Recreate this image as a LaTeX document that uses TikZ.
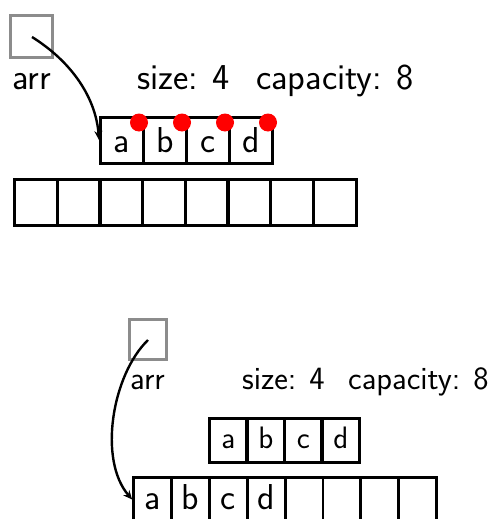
\documentclass[tikz,border=0pt]{standalone}
\usetikzlibrary{arrows.meta,calc}
\begin{document}
\begin{tikzpicture}[x=1pt,y=-1pt,
  cellA/.style={draw=black,line width=3pt,minimum width=43pt,minimum height=46pt,inner sep=0pt,text height=25pt,text depth=0pt,font=\sffamily\fontsize{36}{36}\selectfont},
  cellB/.style={draw=black,line width=2.8pt,minimum width=37.8pt,minimum height=44pt,inner sep=0pt,text height=16pt,text depth=0pt,font=\sffamily\fontsize{31}{31}\selectfont},
  cellC/.style={cellB,text height=19.5pt,font=\sffamily\fontsize{36}{36}\selectfont},
  ptrbox/.style={draw={rgb,255:red,140;green,140;blue,140},line width=3pt,inner sep=0pt},
  lblA/.style={anchor=base west,inner sep=0pt,font=\sffamily\fontsize{36.5}{36.5}\selectfont},
  lblB/.style={anchor=base west,inner sep=0pt,font=\sffamily\fontsize{32.5}{32.5}\selectfont},
  ptr/.style={line width=2.4pt,-{Stealth[length=9pt,width=8pt]}},
  dot/.style={circle,fill=red,inner sep=0pt,minimum size=18pt}
]
\useasboundingbox (0,0) rectangle (496,519);
% ---------- top ----------
\node[ptrbox,minimum width=42pt,minimum height=42pt] (pA) at (31.5,36.5) {};
\node[lblA] (arrA) at (12,89) {arr};
\node[lblA] (sizeA) at (137,89) {size:\hspace{0.4em}4};
\node[lblA] (capA) at (256,89) {capacity:\hspace{0.4em}8};
\foreach \t [count=\i] in {a,b,c,d}
  \node[cellA] (s\i) at ({100.5+43*(\i-0.5)},140) {\t};
\foreach \i in {1,...,8}
  \node[cellA] (g\i) at ({14.5+42.7*(\i-0.5)},202) {};
\foreach \i in {1,...,4}
  \node[dot] (r\i) at ($(s\i.north east)+(-6,7)$) {};
\coordinate (pAs) at (32,37);
\draw[ptr] (pAs) .. controls (72,62) and (96,98) .. (s1.west);
% ---------- bottom ----------
\node[ptrbox,minimum width=37pt,minimum height=40pt] (pB) at (148,339.5) {};
\node[lblB] (arrB) at (130,389) {arr};
\node[lblB] (sizeB) at (242,389) {size:\hspace{0.4em}4};
\node[lblB] (capB) at (348,389) {capacity:\hspace{0.4em}8};
\foreach \t [count=\i] in {a,b,c,d}
  \node[cellB] (u\i) at ({209.5+37.5*(\i-0.5)},440.5) {\t};
\foreach \t [count=\i] in {a,b,c,d,{},{},{},{}}
  \node[cellC] (h\i) at ({133.5+37.9*(\i-0.5)},499.5) {\t};
\coordinate (pBs) at (148,340);
\draw[ptr] (pBs) .. controls (112,375) and (98,460) .. (h1.west);
\end{tikzpicture}
\end{document}
